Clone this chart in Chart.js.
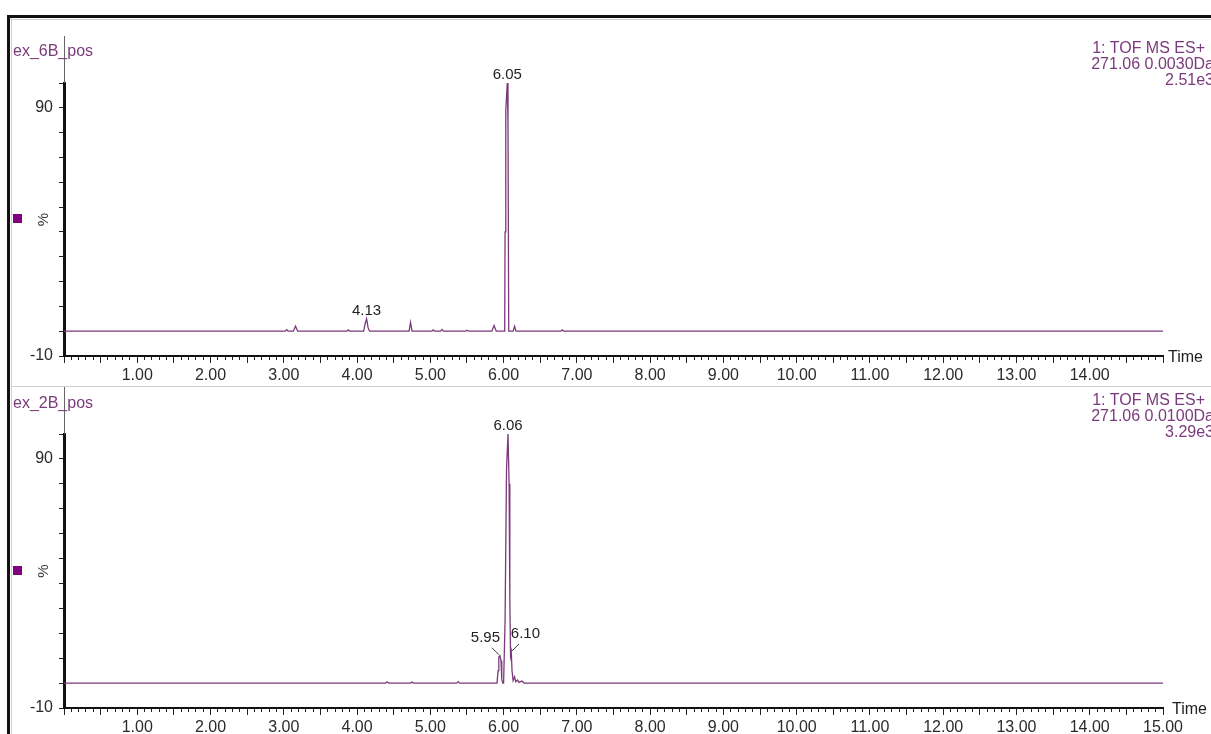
<!DOCTYPE html>
<html lang="en">
<head>
  <meta charset="UTF-8" />
  <title>ex_6B_pos / ex_2B_pos - 271.06</title>
  <script src="https://cdn.jsdelivr.net/npm/chart.js"></script>
  <style>
    html, body { margin: 0; padding: 0; background: #fff; }
    body {
      width: 1211px; height: 734px; position: relative; overflow: hidden;
      font-family: 'Liberation Sans', Arial, sans-serif;
    }
    canvas { position: absolute; left: 0; }
    .abs { position: absolute; }
    .frame { background: #111; }
    .rule { background: #cfcfcf; }
    .name { left: 13px; color: #7b3a7b; font-size: 16px; line-height: 18px; white-space: nowrap; }
    .info { right: -3px; color: #7b3a7b; font-size: 16px; line-height: 16px; text-align: right; white-space: nowrap; }
    .info .l1 { padding-right: 9px; }
    .time { color: #222; font-size: 16px; line-height: 18px; }
    .mark { left: 13px; width: 9px; height: 9px; background: #800080; }
    .stem { left: 64px; width: 1px; background: #666; }
  </style>
</head>
<body>
  <canvas id="top-chart" width="1211" height="385" style="top:0"></canvas>
  <canvas id="bottom-chart" width="1211" height="348" style="top:386px"></canvas>

  <!-- window frame -->
  <div class="abs frame" style="left:7px;top:15px;width:1204px;height:3px"></div>
  <div class="abs frame" style="left:7px;top:15px;width:3px;height:719px"></div>
  <div class="abs rule" style="left:10px;top:19px;width:1201px;height:1px"></div>
  <div class="abs rule" style="left:11px;top:18px;width:1px;height:716px"></div>
  <div class="abs rule" style="left:11px;top:386px;width:1200px;height:1px"></div>

  <!-- top trace header -->
  <div class="abs stem" style="top:36px;height:47px"></div>
  <div class="abs name" style="top:42px">ex_6B_pos</div>
  <div class="abs info" style="top:40px"><div class="l1">1: TOF MS ES+</div><div>271.06 0.0030Da</div><div>2.51e3</div></div>
  <div class="abs mark" style="top:214px"></div>
  <div class="abs time" style="left:1168px;top:348px">Time</div>

  <!-- bottom trace header -->
  <div class="abs stem" style="top:387px;height:47px"></div>
  <div class="abs name" style="top:394px">ex_2B_pos</div>
  <div class="abs info" style="top:392px"><div class="l1">1: TOF MS ES+</div><div>271.06 0.0100Da</div><div>3.29e3</div></div>
  <div class="abs mark" style="top:566px"></div>
  <div class="abs time" style="left:1172px;top:700px">Time</div>

  <script>
    // ex_6B_pos trace (time in min, % of max)
    const topTimes = [0, 3.02, 3.04, 3.06, 3.13, 3.16, 3.19, 3.86, 3.88, 3.90,
      4.09, 4.11, 4.13, 4.15, 4.17, 4.71, 4.73, 4.75, 5.02, 5.04, 5.06,
      5.14, 5.16, 5.18, 5.48, 5.50, 5.52, 5.84, 5.87, 5.90,
      6.015, 6.02, 6.03, 6.05, 6.06, 6.07, 6.13, 6.15, 6.17, 6.78, 6.80, 6.82, 15];
    const topIntensity = [0, 0, 0.6, 0, 0, 2, 0, 0, 0.5, 0,
      0, 3, 5, 1.5, 0, 0, 3.5, 0, 0, 0.5, 0,
      0, 0.7, 0, 0, 0.4, 0, 0, 2.3, 0,
      0, 40, 89, 100, 84, 0, 0, 2, 0, 0, 0.5, 0, 0];
    const topPeaks = [4.13, 6.05];

    // ex_2B_pos trace
    const bottomTimes = [0, 4.39, 4.41, 4.43, 4.73, 4.75, 4.77, 5.36, 5.38, 5.40,
      5.91, 5.925, 5.935, 5.95, 5.965, 5.975, 5.99,
      6.0, 6.02, 6.04, 6.06, 6.075, 6.085, 6.095, 6.105, 6.115, 6.13,
      6.15, 6.165, 6.19, 6.21, 6.25, 6.28, 15];
    const bottomIntensity = [0, 0, 0.5, 0, 0, 0.4, 0, 0, 0.6, 0,
      0, 5, 10.5, 11, 9, 1.5, 0,
      0, 25, 86, 100, 80, 33, 11, 12.5, 5, 1,
      2.5, 0.5, 1.2, 0.3, 0.8, 0, 0];
    const bottomPeaks = [5.95, 6.06, 6.10];

    const yLabelValues = [90, -10];
    const FONT = "'Liberation Sans', Arial, sans-serif";
    const TRACE = '#7a3a7a';

    // writes peak retention times above their apex
    const peakLabels = {
      id: 'peakLabels',
      afterDatasetsDraw(chart, args, opts) {
        const ctx = chart.ctx;
        const x = chart.scales.x, y = chart.scales.y;
        const pts = chart.data.datasets[0].data;
        ctx.save();
        ctx.font = '15px ' + FONT;
        ctx.fillStyle = '#222';
        ctx.strokeStyle = '#333';
        ctx.lineWidth = 1;
        ctx.textAlign = 'center';
        opts.peaks.forEach((t, i) => {
          let top = 0;
          pts.forEach(p => { if (Math.abs(p.x - t) <= 0.012 && p.y > top) top = p.y; });
          const px = x.getPixelForValue(t), py = y.getPixelForValue(top);
          const side = opts.sides[i];
          const txt = t.toFixed(2);
          if (side === 0) {
            ctx.textBaseline = 'alphabetic';
            ctx.fillText(txt, px, py - 4);
          } else {
            ctx.textBaseline = 'middle';
            ctx.fillText(txt, px + side * 14.5, py - 18);
            ctx.beginPath();
            ctx.moveTo(px + side * 8, py - 8);
            ctx.lineTo(px + side * 1, py - 1);
            ctx.stroke();
          }
        });
        ctx.restore();
      }
    };

    function makeChart(id, times, values, peaks, sides, lastLabel, padTop, xHeight) {
      return new Chart(document.getElementById(id), {
        type: 'line',
        data: {
          datasets: [{
            data: times.map((t, i) => ({ x: t, y: values[i] })),
            borderColor: TRACE,
            borderWidth: 1.3,
            pointRadius: 0,
            tension: 0,
            fill: false,
            clip: false
          }]
        },
        options: {
          responsive: false,
          animation: false,
          events: [],
          layout: { padding: { left: 20, right: 48, top: padTop, bottom: 0 } },
          plugins: {
            legend: { display: false },
            tooltip: { enabled: false },
            peakLabels: { peaks: peaks, sides: sides }
          },
          scales: {
            x: {
              type: 'linear', min: 0, max: 15,
              afterFit: s => { s.height = xHeight; },
              border: { color: '#111', width: 2 },
              grid: {
                drawOnChartArea: false, tickLength: 7, tickColor: '#222', tickWidth: 1,
                tickBorderDash: c => (Math.round(c.tick.value * 10) % 5 === 0 ? [] : [3, 20])
              },
              ticks: {
                stepSize: 0.1, autoSkip: false, maxRotation: 0, padding: 3,
                color: '#2a2a2a', font: { size: 16, family: FONT },
                callback: v => {
                  const k = Math.round(v * 10);
                  if (k === 0 || k % 10 !== 0 || k / 10 > lastLabel) return '';
                  return (k / 10).toFixed(2);
                }
              }
            },
            y: {
              min: -10, max: 100,
              afterFit: s => { s.width = 44; },
              border: { color: '#111', width: 3 },
              grid: { drawOnChartArea: false, tickLength: 5, tickColor: '#222', tickWidth: 1 },
              ticks: {
                stepSize: 10, autoSkip: false, padding: 6,
                color: '#2a2a2a', font: { size: 16, family: FONT },
                callback: v => (yLabelValues.includes(v) ? String(v) : '')
              },
              title: {
                display: true, text: '%', color: '#333',
                padding: { top: 16, bottom: 0 },
                font: { size: 15, family: FONT, lineHeight: 1 }
              }
            }
          }
        },
        plugins: [peakLabels]
      });
    }

    makeChart('top-chart', topTimes, topIntensity, topPeaks, [0, 0], 14, 83, 29);
    makeChart('bottom-chart', bottomTimes, bottomIntensity, bottomPeaks, [-1, 0, 1], 15, 48, 26);
  </script>
</body>
</html>
